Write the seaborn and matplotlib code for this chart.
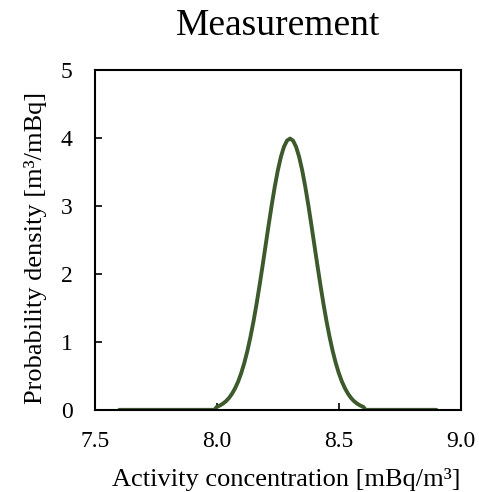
import matplotlib
matplotlib.use("Agg")
import matplotlib.pyplot as plt
import seaborn as sns
import pandas as pd

# Data
concentration = [7.60, 7.99, 8.0000, 8.0125, 8.0250, 8.0375, 8.0500, 8.0625, 8.0750, 8.0875,
                 8.1000, 8.1125, 8.1250, 8.1375, 8.1500, 8.1625, 8.1750, 8.1875, 8.2000,
                 8.2125, 8.2250, 8.2375, 8.2500, 8.2625, 8.2750, 8.2875, 8.3000,
                 8.3125, 8.3250, 8.3375, 8.3500, 8.3625, 8.3750, 8.3875, 8.4000,
                 8.4125, 8.4250, 8.4375, 8.4500, 8.4625, 8.4750, 8.4875, 8.5000,
                 8.5125, 8.5250, 8.5375, 8.5500, 8.5625, 8.5750, 8.5875, 8.6000, 8.61, 8.90]
density = [0.0, 0.0, 0.044, 0.064, 0.091, 0.127, 0.175, 0.238, 0.318, 0.417,
           0.540, 0.688, 0.863, 1.066, 1.295, 1.550, 1.827, 2.119, 2.420,
           2.721, 3.012, 3.282, 3.521, 3.719, 3.867, 3.959, 3.990,
           3.959, 3.867, 3.719, 3.521, 3.282, 3.012, 2.721, 2.420,
           2.119, 1.827, 1.550, 1.295, 1.066, 0.863, 0.688, 0.540,
           0.417, 0.318, 0.238, 0.175, 0.127, 0.091, 0.064, 0.044, 0.0, 0.0]
x_ticks = [7.5, 8.0, 8.5, 9.0]
x_tick_labels = ["7.5", "8.0", "8.5", "9.0"]
y_ticks = [0, 1, 2, 3, 4, 5]

df = pd.DataFrame({"x": concentration, "y": density})

sns.set_style("white")
plt.rcParams["font.family"] = ["Liberation Serif", "DejaVu Serif"]
plt.rcParams["text.color"] = "black"
plt.rcParams["axes.labelcolor"] = "black"

fig = plt.figure(figsize=(4.79, 4.92), dpi=100)
ax = fig.add_axes([0.198, 0.167, 0.764, 0.691])

sns.lineplot(data=df, x="x", y="y", ax=ax, color="#3d5a2c", linewidth=2.8, sort=False,
             solid_joinstyle="round", solid_capstyle="round")

ax.set_xlim(7.5, 9.0)
ax.set_ylim(0, 5)
ax.set_xticks(x_ticks)
ax.set_xticklabels(x_tick_labels)
ax.set_yticks(y_ticks)
ax.tick_params(axis="both", direction="in", length=5, width=1.2, colors="black",
               labelsize=17, bottom=True, left=True)
ax.tick_params(axis="x", pad=15)
ax.tick_params(axis="y", pad=16)
for s in ax.spines.values():
    s.set_color("black")
    s.set_linewidth(1.5)
    s.set_visible(True)

ax.set_xlabel("Activity concentration [mBq/m³]", fontsize=19, labelpad=12)
ax.xaxis.label.set_x(0.522)
ax.set_ylabel("Probability density [m³/mBq]", fontsize=19, labelpad=10)
ax.yaxis.label.set_y(0.476)
ax.set_title("Measurement", fontsize=27, pad=25)

fig.savefig("out.png", dpi=100)
